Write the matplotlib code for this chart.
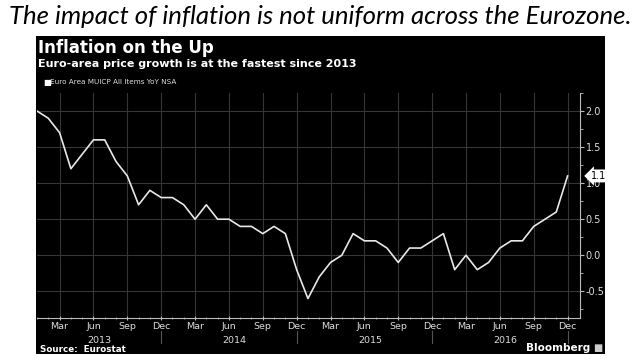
import numpy as np
import matplotlib
matplotlib.use("Agg")
import matplotlib.pyplot as plt
from matplotlib.patches import Rectangle

# Euro area MUICP all items YoY, Jan 2013 - Dec 2016
months = ["Jan", "Feb", "Mar", "Apr", "May", "Jun", "Jul", "Aug", "Sep", "Oct", "Nov", "Dec"]
years = [2013, 2014, 2015, 2016]
inflation = [2.0, 1.9, 1.7, 1.2, 1.4, 1.6, 1.6, 1.3, 1.1, 0.7, 0.9, 0.8,
             0.8, 0.7, 0.5, 0.7, 0.5, 0.5, 0.4, 0.4, 0.3, 0.4, 0.3, -0.2,
             -0.6, -0.3, -0.1, 0.0, 0.3, 0.2, 0.2, 0.1, -0.1, 0.1, 0.1, 0.2,
             0.3, -0.2, 0.0, -0.2, -0.1, 0.1, 0.2, 0.2, 0.4, 0.5, 0.6, 1.1]
yticks = [-0.5, 0.0, 0.5, 1.0, 1.5, 2.0]

W, H = 640, 364
fig = plt.figure(figsize=(W / 100, H / 100), dpi=100)
fig.patch.set_facecolor("white")

def px(x, y):
    return x / W, 1 - y / H

# black bloomberg panel
x0, y0 = px(36, 354)
x1, y1 = px(605, 36)
fig.patches.append(Rectangle((x0, y0), x1 - x0, y1 - y0, transform=fig.transFigure,
                             facecolor="black", edgecolor="none", zorder=-5))

fig.text(0.5, 1 - 17 / H, "The impact of inflation is not uniform across the Eurozone.",
         ha="center", va="center", fontsize=18.5, style="italic", family="Lato", color="black")
fig.text(*px(38, 48), "Inflation on the Up", ha="left", va="center", fontsize=12,
         fontweight="bold", color="white", family="DejaVu Sans")
fig.text(*px(38, 64), "Euro-area price growth is at the fastest since 2013", ha="left",
         va="center", fontsize=8, fontweight="bold", color="white", family="DejaVu Sans")
fig.text(*px(43, 82), "\u25a0", ha="left", va="center", fontsize=6, color="white")
fig.text(*px(50, 82), "Euro Area MUICP All Items YoY NSA", ha="left", va="center",
         fontsize=5.2, color="#dddddd", family="DejaVu Sans")
fig.text(*px(40, 349), "Source:  Eurostat", ha="left", va="center", fontsize=6.3,
         fontweight="bold", color="white", family="DejaVu Sans")
fig.text(*px(590, 348), "Bloomberg", ha="right", va="center", fontsize=7.5,
         fontweight="bold", color="white", family="DejaVu Sans")
fig.text(*px(593, 348), "\u25a0", ha="left", va="center", fontsize=7, color="#cccccc")

ax = fig.add_axes([37 / W, 1 - 318 / H, (580 - 37) / W, (318 - 93) / H])
ax.set_facecolor("black")
x = np.arange(len(inflation))
ax.plot(x, inflation, color="#e8e8e8", lw=1.2, zorder=3)

ax.set_xlim(0, 48.1)
ax.set_ylim(-0.87, 2.23)

# quarter ticks with month labels
qpos = [i for i in range(len(inflation)) if months[i % 12] in ("Mar", "Jun", "Sep", "Dec")]
ax.set_xticks(qpos)
ax.set_xticklabels([months[i % 12] for i in qpos])
ax.set_xticks(x, minor=True)
ax.set_yticks(yticks)
ax.set_yticklabels(["%.1f" % v for v in yticks])
ax.set_yticks(np.arange(-0.75, 2.3, 0.25), minor=True)
ax.yaxis.tick_right()

ax.grid(True, which="major", color="#363636", lw=0.8)
ax.tick_params(axis="x", which="major", colors="#bbbbbb", labelcolor="#dddddd",
               labelsize=6.8, length=3, direction="inout", pad=1.5)
ax.tick_params(axis="x", which="minor", colors="#999999", length=2, direction="inout")
ax.tick_params(axis="y", which="both", colors="#bbbbbb", labelcolor="#dddddd",
               labelsize=7, length=3, direction="out", pad=1)
ax.tick_params(axis="y", which="minor", length=2)
for s in ("top", "left"):
    ax.spines[s].set_visible(False)
ax.spines["right"].set_color("#bbbbbb")
ax.spines["bottom"].set_color("#bbbbbb")

# year labels and separators
tr = ax.get_xaxis_transform()
for k, yr in enumerate(years):
    ax.text(k * 12 + 5.5, -0.1, str(yr), transform=tr,
            ha="center", va="center", fontsize=6.8, color="#dddddd")
    ax.plot([k * 12 + 11, k * 12 + 11], [-0.058, -0.112], transform=tr,
            color="#555555", lw=0.8, clip_on=False)

# last value label
ax.annotate("%.1f" % inflation[-1], xy=(1.0, inflation[-1]), xycoords=("axes fraction", "data"),
            xytext=(8, 0), textcoords="offset points", ha="left", va="center",
            fontsize=7, color="black",
            bbox=dict(boxstyle="larrow,pad=0.15", fc="white", ec="none"))

fig.savefig("out.png", dpi=100, facecolor="white")
